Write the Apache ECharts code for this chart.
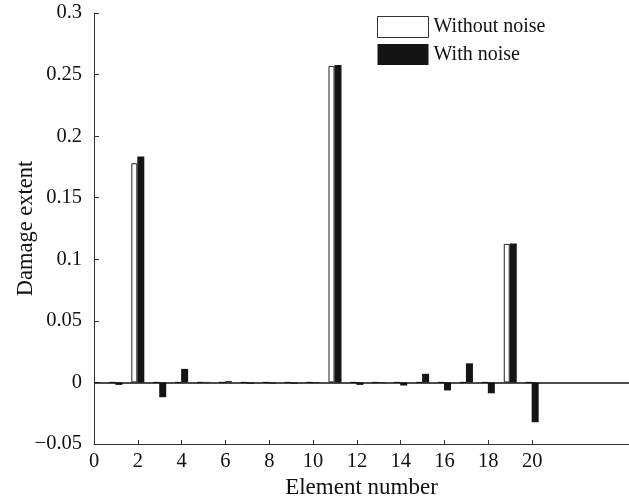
<!DOCTYPE html>
<html>
<head>
<meta charset="utf-8">
<script src="https://cdn.jsdelivr.net/npm/echarts@6/dist/echarts.min.js"></script>
<style>
    html, body { margin: 0; padding: 0; background: #fff; }
    #chart { width: 629px; height: 498px; }
</style>
</head>
<body>
<div id="chart"></div>
<script>
// element numbers and damage extents
const elements = [1, 2, 3, 4, 5, 6, 7, 8, 9, 10, 11, 12, 13, 14, 15, 16, 17, 18, 19, 20];
const withoutNoise = [0, 0.178, 0, 0, 0, 0, 0, 0, 0, 0, 0.257, 0, 0, 0, 0, 0, 0, 0, 0.1125, 0];
const withNoise = [-0.002, 0.1835, -0.012, 0.011, 0.0004, 0.001, -0.001, -0.0008, -0.001, -0.0005,
    0.2577, -0.002, -0.0005, -0.0025, 0.007, -0.0065, 0.0155, -0.0088, 0.1128, -0.0323];
const xTicks = [0, 2, 4, 6, 8, 10, 12, 14, 16, 18, 20];

const serif = 'Liberation Serif';

const chart = echarts.init(document.getElementById('chart'));
chart.setOption({
    animation: false,
    grid: {
        left: 94,
        right: 0,
        top: 13,
        bottom: 54,
        outerBoundsMode: 'none'
    },
    legend: {
        orient: 'vertical',
        left: 372,
        top: 11,
        itemWidth: 51,
        itemHeight: 21,
        itemGap: 6,
        icon: 'rect',
        textStyle: { fontFamily: serif, fontSize: 20, color: '#111' },
        data: [
            { name: 'Without noise', itemStyle: { color: '#fff', borderColor: '#333', borderWidth: 1 } },
            { name: 'With noise', itemStyle: { color: '#141414' } }
        ]
    },
    xAxis: {
        type: 'value',
        min: 0,
        max: 24.42,
        interval: 2,
        name: 'Element number',
        nameLocation: 'middle',
        nameGap: 32,
        nameMoveOverlap: false,
        nameTextStyle: { fontFamily: serif, fontSize: 23, color: '#111' },
        axisLine: { onZero: false, lineStyle: { color: '#333', width: 1 } },
        axisTick: { inside: true, length: 4, customValues: xTicks, lineStyle: { color: '#333' } },
        axisLabel: { customValues: xTicks, margin: 7, fontFamily: serif, fontSize: 20.5, color: '#111' },
        splitLine: { show: false }
    },
    yAxis: {
        type: 'value',
        min: -0.05,
        max: 0.3,
        interval: 0.05,
        name: 'Damage extent',
        nameLocation: 'middle',
        nameGap: 56,
        nameMoveOverlap: false,
        nameTextStyle: { fontFamily: serif, fontSize: 22.5, color: '#111' },
        axisLine: { show: true, lineStyle: { color: '#333', width: 1 } },
        axisTick: { inside: true, length: 5, lineStyle: { color: '#333' } },
        axisLabel: {
            margin: 12,
            fontFamily: serif,
            fontSize: 20.5,
            color: '#111',
            formatter(v) {
                const s = String(Math.round(v * 100) / 100);
                return s.replace('-', '\u2212');
            }
        },
        splitLine: { show: false }
    },
    series: [
        {
            name: 'Without noise',
            type: 'bar',
            barWidth: 6,
            barGap: '0%',
            data: elements.map((e, i) => [e, withoutNoise[i]]),
            itemStyle: { color: '#fff', borderColor: '#222', borderWidth: 1 }
        },
        {
            name: 'With noise',
            type: 'bar',
            barWidth: 7,
            data: elements.map((e, i) => [e, withNoise[i]]),
            itemStyle: { color: '#141414' },
            markLine: {
                silent: true,
                symbol: 'none',
                label: { show: false },
                lineStyle: { color: '#111', width: 1.5, type: 'solid' },
                data: [{ yAxis: 0 }]
            }
        }
    ]
});
</script>
</body>
</html>
